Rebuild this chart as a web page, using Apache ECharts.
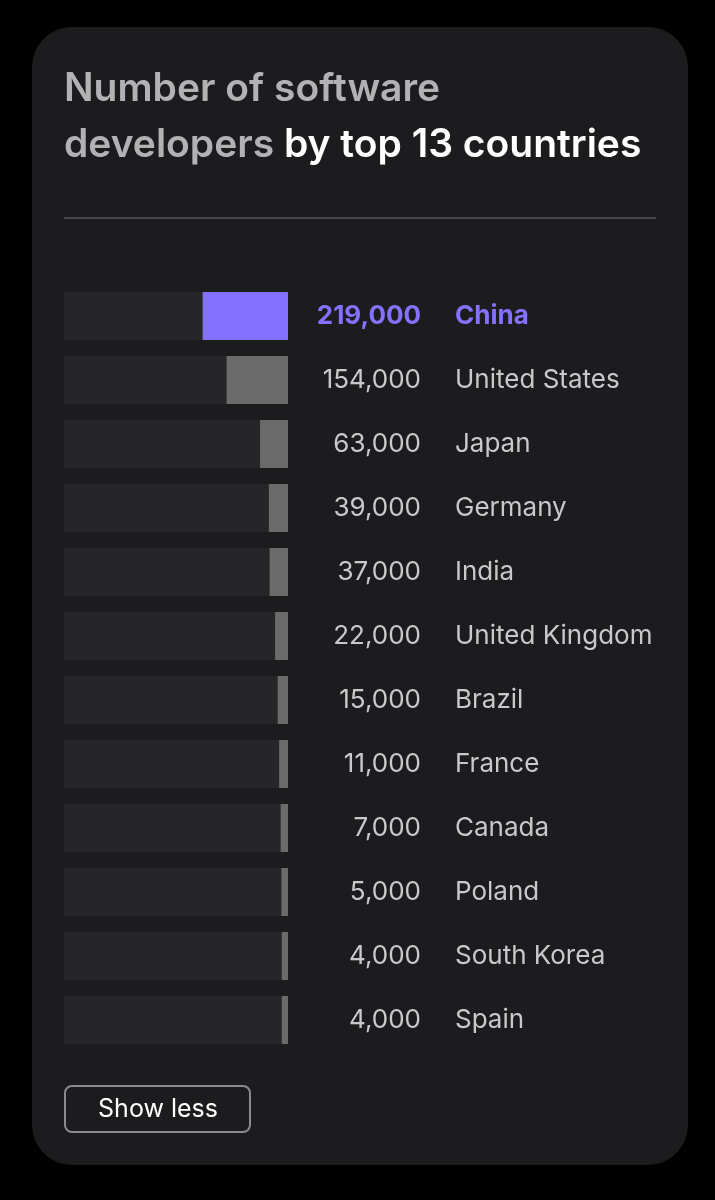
<!DOCTYPE html>
<html>
<head>
<meta charset="utf-8">
<title>Number of software developers by top 13 countries</title>
<script src="https://cdn.jsdelivr.net/npm/echarts@6/dist/echarts.min.js"></script>
<style>
  html, body { margin: 0; padding: 0; background: #000; }
  #chart { width: 715px; height: 1200px; }
</style>
</head>
<body>
<div id="chart"></div>
<script>
const countries = ["China", "United States", "Japan", "Germany", "India", "United Kingdom", "Brazil", "France", "Canada", "Poland", "South Korea", "Spain"]
const developers = [219000, 154000, 63000, 39000, 37000, 22000, 15000, 11000, 7000, 5000, 4000, 4000]

// value axis extent (bars grow right-to-left, with a small stub below zero)
const xMin = -13000
const xMax = 596000

const purple = "#8571ff"
const grey = "#6b6b6c"
const track = "#262628"
const textGrey = "#c9c9cb"
const font = "Inter"

const chart = echarts.init(document.getElementById("chart"), null, { renderer: "canvas" })

const fmt = (v) => v.toLocaleString("en-US")

const labelStyle = (i) => ({
  fontFamily: font,
  fontSize: 26,
  fontWeight: i === 0 ? 700 : 400,
  color: i === 0 ? purple : textGrey
})

const option = {
  backgroundColor: "#000",
  animation: false,
  textStyle: { fontFamily: font },
  title: {
    left: 64,
    top: 61,
    padding: 0,
    text: "{a|Number of software}\n{a|developers }{b|by top 13 countries}",
    textStyle: {
      rich: {
        a: { fontFamily: font, fontSize: 39, fontWeight: 600, color: "#b2b2b4", lineHeight: 56 },
        b: { fontFamily: font, fontSize: 39, fontWeight: 600, color: "#ffffff", lineHeight: 56 }
      }
    }
  },
  graphic: [
    {
      type: "rect",
      z: -10,
      silent: true,
      shape: { x: 32, y: 27, width: 656, height: 1138, r: 40 },
      style: { fill: "#1c1c1e" }
    },
    {
      type: "line",
      silent: true,
      shape: { x1: 64, y1: 218, x2: 656, y2: 218 },
      style: { stroke: "#47474a", lineWidth: 2 }
    },
    {
      type: "rect",
      shape: { x: 65, y: 1086, width: 185, height: 46, r: 7 },
      style: { fill: "none", stroke: "#8a8a8c", lineWidth: 2 }
    },
    {
      type: "text",
      x: 158,
      y: 1109,
      style: {
        text: "Show less",
        fill: "#ffffff",
        fontFamily: font,
        fontSize: 25,
        align: "center",
        verticalAlign: "middle"
      }
    }
  ],
  grid: { left: 64, top: 284, width: 224, height: 768 },
  xAxis: {
    type: "value",
    inverse: true,
    min: xMin,
    max: xMax,
    show: false
  },
  yAxis: [
    {
      // country names
      type: "category",
      data: countries,
      inverse: true,
      position: "right",
      offset: 167,
      axisLine: { show: false },
      axisTick: { show: false },
      axisLabel: {
        margin: 0,
        align: "left",
        formatter: (name, i) => (i === 0 ? `{b|${name}}` : `{r|${name}}`),
        rich: { r: labelStyle(1), b: labelStyle(0) }
      }
    },
    {
      // values, right-aligned
      type: "category",
      data: countries,
      inverse: true,
      position: "right",
      offset: 133,
      axisLine: { show: false },
      axisTick: { show: false },
      axisLabel: {
        margin: 0,
        align: "right",
        formatter: (name, i) => (i === 0 ? `{b|${fmt(developers[i])}}` : `{r|${fmt(developers[i])}}`),
        rich: { r: labelStyle(1), b: labelStyle(0) }
      }
    }
  ],
  series: [
    {
      type: "custom",
      yAxisIndex: 0,
      encode: { x: 0, y: 1 },
      data: developers.map((v, i) => [v, i]),
      renderItem: (params, api) => {
        const idx = api.value(1)
        const far = api.coord([xMax, idx])
        const base = api.coord([xMin, idx])
        const tip = api.coord([api.value(0), idx])
        const h = api.size([0, 1])[1] * 0.75
        return {
          type: "group",
          children: [
            {
              type: "rect",
              shape: { x: far[0], y: base[1] - h / 2, width: base[0] - far[0], height: h },
              style: { fill: track }
            },
            {
              type: "rect",
              shape: { x: tip[0], y: base[1] - h / 2, width: base[0] - tip[0], height: h },
              style: { fill: params.dataIndex === 0 ? purple : grey }
            }
          ]
        }
      }
    }
  ]
}

chart.setOption(option)
</script>
</body>
</html>
